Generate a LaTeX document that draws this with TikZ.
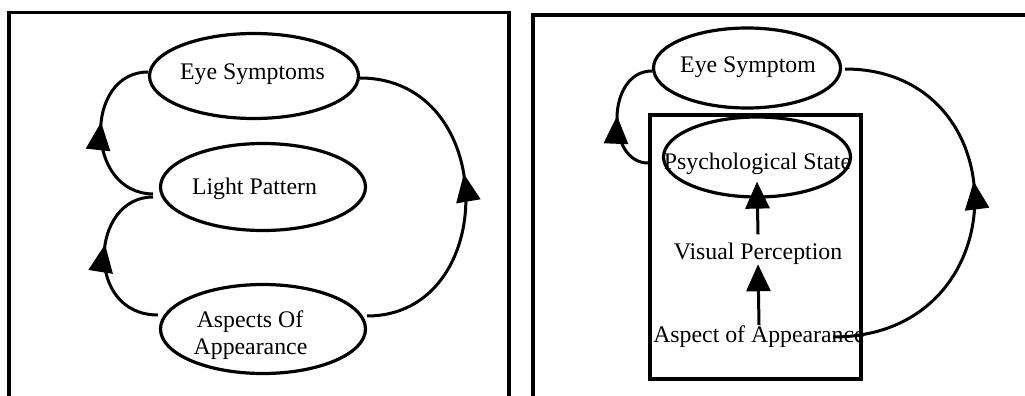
\documentclass[tikz,border=0pt]{standalone}
\usepackage{fontspec}
\setmainfont{Liberation Serif}
\usetikzlibrary{shapes.geometric,arrows.meta,decorations.markings}
\begin{document}
\begin{tikzpicture}[x=1pt,y=-1pt,
  txt/.style={inner sep=0pt,anchor=base,font=\fontsize{23.8}{27}\selectfont},
  oval/.style={draw,ellipse,line width=3.2pt,inner sep=0pt},
  frame/.style={line width=3.2pt},
  conn/.style={line width=3pt},
  tipmark/.style={postaction={decorate},decoration={markings,mark=at position #1 with {\arrow{Triangle[length=28pt,width=24pt]}}}},
  straight/.style={line width=3pt,-{Triangle[length=27pt,width=24pt]}}
]
\useasboundingbox (0,0) rectangle (1025,396);
\fill[white] (0,0) rectangle (1025,396);

% frames
\draw[frame] (9,398) -- (9,12.5) -- (509,12.5) -- (509,398);
\draw[frame] (533,398) -- (533,15) -- (1027,15);

% ---------- left panel ----------
\node[oval,minimum width=209pt,minimum height=85pt] (es1) at (254,76) {};
\node[oval,minimum width=205pt,minimum height=87pt] (lp1) at (263,187) {};
\node[oval,minimum width=205pt,minimum height=89pt] (ap1) at (263,329) {};
\node[txt] (es1t) at (252.5,80) {Eye Symptoms};
\node[txt] (lp1t) at (254.5,194) {Light Pattern};
\node[txt] (ap1a) at (250,327) {Aspects Of};
\node[txt] (ap1b) at (250.5,354) {Appearance};

\coordinate (lpw) at (153,194);
\coordinate (esw) at (148,72);
\coordinate (apw) at (158,315);
\coordinate (lpw2) at (153,197);
\coordinate (ape) at (367,316);
\coordinate (ese) at (360,78);

\draw[conn,tipmark=0.57] (lpw) .. controls (84,193) and (84,72) .. (esw);
\draw[conn,tipmark=0.58] (apw) .. controls (84,315) and (90,197) .. (lpw2);
\draw[conn,tipmark=0.56] (ape) .. controls (500,316) and (500,78) .. (ese);

% ---------- right panel ----------
\node[draw,line width=3.2pt,inner sep=0pt,minimum width=211pt,minimum height=264pt] (box) at (755.5,247) {};
\node[oval,minimum width=187pt,minimum height=80pt] (es2) at (747,68) {};
\node[oval,minimum width=187pt,minimum height=80pt] (ps) at (757,157) {};
\node[txt] (es2t) at (748,73) {Eye Symptom};
\node[txt] (pst) at (757.5,169) {Psychological State};
\node[txt] (vp) at (758,259) {Visual Perception};
\node[txt] (aoa) at (759,342) {Aspect of Appearance};

\coordinate (psw) at (648,163);
\coordinate (es2w) at (652,71);
\coordinate (aoae) at (833,337);
\coordinate (es2e) at (845,69);

\draw[conn,tipmark=0.5] (psw) .. controls (606,163) and (606,71) .. (es2w);
\draw[conn,tipmark=0.56] (aoae) .. controls (1020,337) and (1020,69) .. (es2e);

\draw[straight] ([yshift=8pt]vp.north) -- ([yshift=17pt]ps.south);
\draw[straight] (aoa.north) -- (vp.south);
\end{tikzpicture}
\end{document}
